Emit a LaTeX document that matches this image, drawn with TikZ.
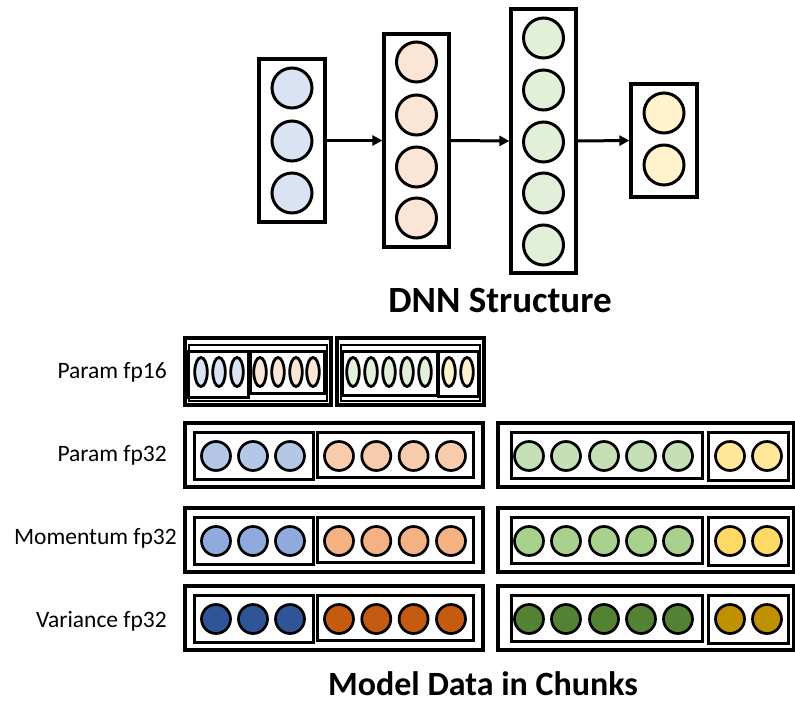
\documentclass[tikz,border=0pt]{standalone}
\usepackage{fontspec}
\setmainfont{Carlito}
\usetikzlibrary{arrows.meta,shapes.geometric}

% Office-style palette: pale, light, medium and dark tints
\definecolor{bluePale}{HTML}{DAE3F3}
\definecolor{orangePale}{HTML}{FBE5D6}
\definecolor{greenPale}{HTML}{E2F0D9}
\definecolor{yellowPale}{HTML}{FFF2CC}
\definecolor{blueA}{HTML}{B4C7E7}
\definecolor{orangeA}{HTML}{F8CBAD}
\definecolor{greenA}{HTML}{C5E0B4}
\definecolor{yellowA}{HTML}{FFE699}
\definecolor{blueB}{HTML}{8FAADC}
\definecolor{orangeB}{HTML}{F4B183}
\definecolor{greenB}{HTML}{A9D18E}
\definecolor{yellowB}{HTML}{FFD966}
\definecolor{blueC}{HTML}{2F5597}
\definecolor{orangeC}{HTML}{C55A11}
\definecolor{greenC}{HTML}{548235}
\definecolor{yellowC}{HTML}{BF9000}

\begin{document}
\begin{tikzpicture}[x=1pt,y=-1pt,
  layerbox/.style={draw=black, line width=3.2pt, rectangle, inner sep=0pt},
  chunkbox/.style={draw=black, line width=3.2pt, rectangle, inner sep=0pt},
  groupbox/.style={draw=black, line width=3pt, rectangle, inner sep=0pt},
  thinbox/.style={draw=black, line width=1.8pt, rectangle, inner sep=0pt},
  neuron/.style={draw=black, line width=3pt, circle, inner sep=0pt, minimum size=40pt},
  dot/.style={draw=black, line width=2.7pt, circle, inner sep=0pt, minimum size=29pt},
  oval/.style={draw=black, line width=2.8pt, ellipse, inner sep=0pt, minimum width=12.5pt, minimum height=29pt},
  conn/.style={line width=3pt, -{Triangle[length=10pt,width=10pt]}},
  rowlabel/.style={anchor=base east, inner sep=0pt, font=\fontsize{23.5}{27}\selectfont},
  title/.style={anchor=base, inner sep=0pt, font=\bfseries}
]
\useasboundingbox (0,0) rectangle (795,704);

% ---------------- DNN layers ----------------
\node[layerbox, minimum width=66pt, minimum height=163pt] (L1) at (292,140.5) {};
\node[layerbox, minimum width=65pt, minimum height=213pt] (L2) at (416.5,140.5) {};
\node[layerbox, minimum width=65pt, minimum height=264pt] (L3) at (543.5,141) {};
\node[layerbox, minimum width=66pt, minimum height=113pt] (L4) at (664,140.5) {};

\foreach \cy [count=\i] in {88,141,193}
  \node[neuron, fill=bluePale] (n1\i) at (292,\cy) {};
\foreach \cy [count=\i] in {62,115,167,218}
  \node[neuron, fill=orangePale] (n2\i) at (416.5,\cy) {};
\foreach \cy [count=\i] in {38,90,142,193,245}
  \node[neuron, fill=greenPale] (n3\i) at (543.5,\cy) {};
\foreach \cy [count=\i] in {113,165}
  \node[neuron, fill=yellowPale] (n4\i) at (664,\cy) {};

\draw[conn] (L1.east) -- (L2.west);
\draw[conn] (L2.east) -- (L3.west);
\draw[conn] (L3.east) -- (L4.west);

\node[title, font=\fontsize{37}{42}\selectfont\bfseries] (dnn) at (500,312) {DNN Structure};

% ---------------- fp16 parameters ----------------
\node[rowlabel] (lab16) at (167,378) {Param fp16};

\node[chunkbox, minimum width=146pt, minimum height=67pt] (h1) at (258,371.5) {};
\node[thinbox, minimum width=138pt, minimum height=56pt] (h1i) at (258,373) {};
\node[groupbox, minimum width=60pt, minimum height=46pt] (h1b) at (218,374) {};
\node[groupbox, minimum width=74pt, minimum height=42pt] (h1o) at (287,372) {};
\foreach \cx [count=\i] in {201,219,237}
  \node[oval, fill=bluePale] (hb\i) at (\cx,372) {};
\foreach \cx [count=\i] in {260,278,296,313}
  \node[oval, fill=orangePale] (ho\i) at (\cx,372) {};

\node[chunkbox, minimum width=147pt, minimum height=67pt] (h2) at (410.5,371.5) {};
\node[thinbox, minimum width=139pt, minimum height=56pt] (h2i) at (410.5,373) {};
\node[groupbox, minimum width=95pt, minimum height=44pt] (h2g) at (389.5,373) {};
\node[groupbox, minimum width=40pt, minimum height=45pt] (h2y) at (458,373.5) {};
\foreach \cx [count=\i] in {353,371,389,407,425}
  \node[oval, fill=greenPale] (hg\i) at (\cx,372) {};
\foreach \cx [count=\i] in {449,467}
  \node[oval, fill=yellowPale] (hy\i) at (\cx,372) {};

% ---------------- fp32 chunks: parameters, momentum, variance ----------------
\foreach \yy/\bl/\lab/\lx/\cb/\co/\cg/\cy/\nm in {
    455/461/Param fp32/167/blueA/orangeA/greenA/yellowA/p,
    540/544/Momentum fp32/177/blueB/orangeB/greenB/yellowB/m,
    618/627/Variance fp32/167/blueC/orangeC/greenC/yellowC/v} {
  \node[rowlabel] (\nm lab) at (\lx,\bl) {\lab};
  \node[chunkbox, minimum width=298pt, minimum height=64pt] (\nm c1) at (334,\yy) {};
  \node[chunkbox, minimum width=296pt, minimum height=64pt] (\nm c2) at (646,\yy) {};
  \node[groupbox, minimum width=119pt, minimum height=47pt] (\nm gb) at (253.5,\yy+1) {};
  \node[groupbox, minimum width=156pt, minimum height=45pt] (\nm go) at (395,\yy) {};
  \node[groupbox, minimum width=191pt, minimum height=46pt] (\nm gg) at (606.5,\yy+0.5) {};
  \node[groupbox, minimum width=80pt, minimum height=48pt] (\nm gy) at (748,\yy+1) {};
  \foreach \cx [count=\i] in {216,253,290}
    \node[dot, fill=\cb] (\nm b\i) at (\cx,\yy+1) {};
  \foreach \cx [count=\i] in {339,376.3,413.6,451}
    \node[dot, fill=\co] (\nm o\i) at (\cx,\yy+1) {};
  \foreach \cx [count=\i] in {529,566,604,641,678}
    \node[dot, fill=\cg] (\nm g\i) at (\cx,\yy+1) {};
  \foreach \cx [count=\i] in {730,767}
    \node[dot, fill=\cy] (\nm y\i) at (\cx,\yy+1) {};
}

\node[title, font=\fontsize{34}{40}\selectfont\bfseries] (chunks) at (483,695) {Model Data in Chunks};
\end{tikzpicture}
\end{document}
